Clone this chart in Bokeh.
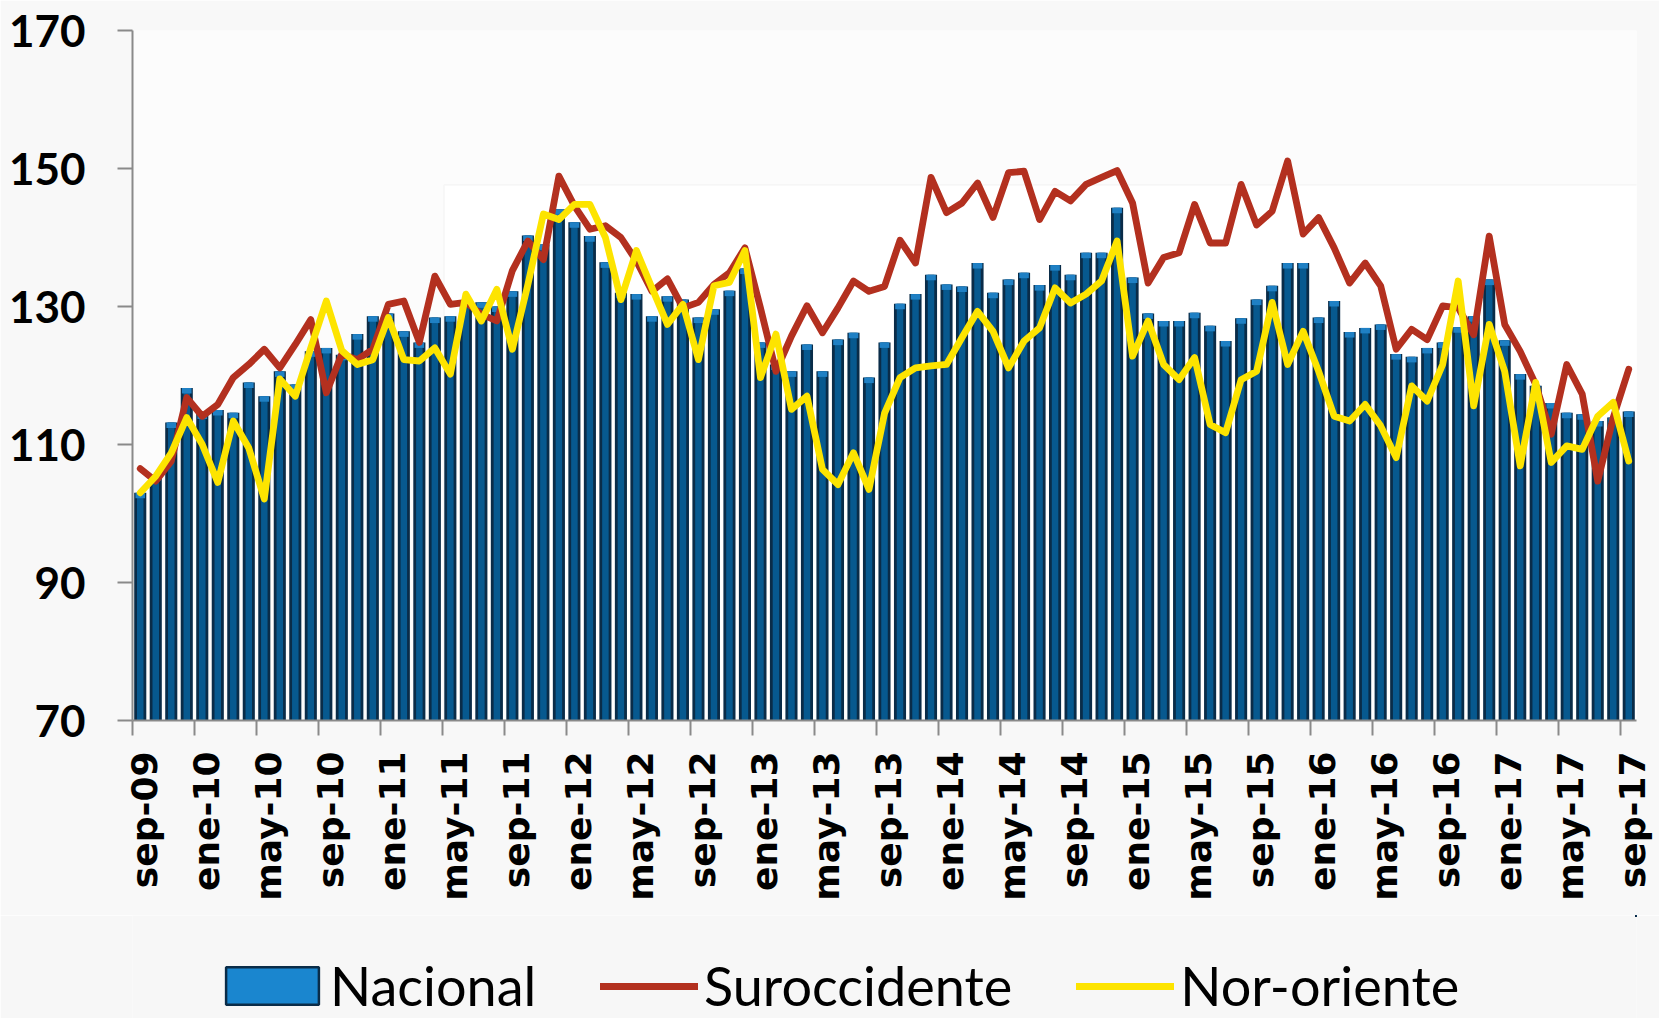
import math
from bokeh.plotting import figure
from bokeh.layouts import column
from bokeh.models import (FixedTicker, LinearAxis, Legend, LegendItem, BoxAnnotation,
                          ColumnDataSource, Range1d)
from bokeh.embed import file_html
from bokeh.resources import INLINE

tick_labels = ["sep-09", "ene-10", "may-10", "sep-10", "ene-11", "may-11", "sep-11",
               "ene-12", "may-12", "sep-12", "ene-13", "may-13", "sep-13", "ene-14",
               "may-14", "sep-14", "ene-15", "may-15", "sep-15", "ene-16", "may-16",
               "sep-16", "ene-17", "may-17", "sep-17"]
y_ticks = [70, 90, 110, 130, 150, 170]
series_names = ["Nacional", "Suroccidente", "Nor-oriente"]

nacional = [103.0, 105.5, 113.2, 118.2, 114.5, 115.0, 114.6, 119.0, 117.0, 120.6,
            118.7, 123.5, 124.0, 123.0, 126.0, 128.6, 129.0, 126.4, 124.8, 128.4,
            128.6, 130.8, 130.6, 130.0, 132.2, 140.3, 139.0, 144.1, 142.2, 140.2,
            136.4, 132.0, 131.8, 128.6, 131.5, 131.0, 128.4, 129.6, 132.3, 135.5,
            124.8, 121.6, 120.6, 124.5, 120.6, 125.2, 126.2, 119.7, 124.8, 130.4,
            131.8, 134.6, 133.2, 132.9, 136.3, 132.0, 133.9, 134.9, 133.1, 136.0,
            134.6, 137.8, 137.8, 144.3, 134.2, 129.0, 127.9, 127.9, 129.1, 127.2,
            125.0, 128.3, 131.0, 133.0, 136.3, 136.3, 128.4, 130.8, 126.3, 126.9,
            127.4, 123.1, 122.7, 124.0, 124.8, 127.0, 128.6, 133.9, 125.1, 120.2,
            118.5, 116.0, 114.6, 114.4, 113.4, 113.9, 114.8]

suroccidente = [106.5, 104.7, 107.6, 116.8, 114.1, 115.8, 119.7, 121.6, 123.8, 121.1,
                124.5, 128.1, 117.5, 123.1, 122.3, 123.8, 130.3, 130.8, 124.8, 134.4,
                130.3, 130.6, 128.9, 127.9, 135.2, 139.5, 136.8, 148.9, 144.6, 141.2,
                141.7, 140.0, 136.6, 132.2, 134.0, 129.8, 130.6, 133.2, 134.9, 138.5,
                129.8, 120.6, 125.7, 130.1, 126.2, 129.8, 133.7, 132.2, 132.9, 139.6,
                136.3, 148.7, 143.6, 145.0, 147.9, 142.9, 149.4, 149.6, 142.6, 146.7,
                145.3, 147.7, 148.7, 149.7, 145.0, 133.4, 137.1, 137.8, 144.8, 139.2,
                139.2, 147.7, 141.8, 143.8, 151.1, 140.5, 142.9, 138.5, 133.4, 136.3,
                133.0, 123.8, 126.7, 125.2, 130.1, 129.8, 125.9, 140.2, 127.4, 123.5,
                118.7, 111.5, 121.6, 117.3, 104.7, 113.9, 120.9]

nororiente = [103.0, 105.4, 108.8, 113.9, 110.0, 104.5, 113.4, 109.5, 102.1, 119.5,
              117.0, 124.0, 130.8, 123.6, 121.6, 122.3, 128.4, 122.3, 122.1, 124.0,
              120.2, 131.8, 127.9, 132.5, 123.8, 133.2, 143.4, 142.6, 144.8, 144.8,
              140.0, 131.0, 138.1, 132.7, 127.4, 130.3, 122.3, 133.0, 133.5, 138.1,
              119.7, 126.0, 115.1, 117.0, 106.4, 104.2, 108.8, 103.5, 114.5, 119.7,
              121.1, 121.4, 121.6, 125.5, 129.3, 126.4, 121.1, 125.0, 126.9, 132.7,
              130.5, 131.8, 133.7, 139.5, 122.8, 127.9, 121.6, 119.4, 122.6, 112.9,
              111.7, 119.4, 120.6, 130.6, 121.6, 126.4, 120.6, 114.1, 113.4, 115.8,
              112.7, 108.1, 118.5, 116.3, 121.6, 133.7, 115.6, 127.4, 120.6, 106.9,
              119.0, 107.4, 109.8, 109.3, 114.1, 116.1, 107.6]

BAR_DARK = "#0a2c48"
BAR_MID = "#07598f"
BAR_CAP = "#1f80c4"
LEGEND_BAR = "#1a86cf"
RED = "#b3301f"
YELLOW = "#fde400"
AXIS_GRAY = "#8a8a8a"

n = len(nacional)
xs = [i + 0.5 for i in range(n)]
cap_bottom = [v - 0.8 for v in nacional]
src = ColumnDataSource(dict(x=xs, nac=nacional, sur=suroccidente, nor=nororiente, capb=cap_bottom))

p = figure(width=1659, height=915, output_backend="svg", toolbar_location=None,
           x_range=Range1d(0, n), y_range=Range1d(70, 170),
           min_border_left=132, min_border_right=23, min_border_top=30, min_border_bottom=195)
p.background_fill_color = "#fcfcfc"
p.border_fill_color = "#f8f8f8"
p.outline_line_color = None
p.xgrid.grid_line_color = None
p.ygrid.grid_line_color = None

# faint background panel (artifact of the original sheet)
p.add_layout(BoxAnnotation(left=20.1, right=n + 0.5, top=147.6, bottom=70,
                           fill_color="#ffffff", fill_alpha=1.0,
                           line_color="#e4e4e4", line_width=1.5, level="underlay"))

# bars with a pseudo 3D look
p.vbar(x="x", top="nac", bottom=70, width=0.78, source=src,
       fill_color=BAR_DARK, line_color=None)
p.vbar(x="x", top="nac", bottom=70, width=0.42, source=src,
       fill_color=BAR_MID, line_color=None)
p.vbar(x="x", top="nac", bottom="capb", width=0.62, source=src,
       fill_color=BAR_CAP, line_color=None)

p.line(x="x", y="sur", source=src, line_color=RED, line_width=6.8,
       line_join="round", line_cap="round")
p.line(x="x", y="nor", source=src, line_color=YELLOW, line_width=6.8,
       line_join="round", line_cap="round")

# y axis
ya = p.yaxis[0]
ya.ticker = FixedTicker(ticks=y_ticks)
ya.major_label_text_font = "Lato"
ya.major_label_text_font_style = "bold"
ya.major_label_text_font_size = "44px"
ya.major_label_text_color = "#000000"
ya.major_tick_out = 15
ya.major_tick_in = 0
ya.minor_tick_out = 0
ya.minor_tick_in = 0
ya.axis_line_color = AXIS_GRAY
ya.axis_line_width = 2
ya.major_tick_line_color = AXIS_GRAY
ya.major_tick_line_width = 2
ya.major_label_standoff = 32

# x axis: tick marks at month boundaries
tick_pos = [4 * k for k in range(len(tick_labels))]
xa = p.xaxis[0]
xa.ticker = FixedTicker(ticks=tick_pos)
xa.major_label_overrides = {t: "" for t in tick_pos}
xa.major_label_text_font_size = "1px"
xa.major_label_standoff = 0
xa.major_tick_out = 15
xa.major_tick_in = 0
xa.minor_tick_out = 0
xa.minor_tick_in = 0
xa.axis_line_color = AXIS_GRAY
xa.axis_line_width = 2
xa.major_tick_line_color = AXIS_GRAY
xa.major_tick_line_width = 2

# x axis labels
label_pos = [t + 0.75 for t in tick_pos]
xl = LinearAxis(ticker=FixedTicker(ticks=label_pos),
                major_label_overrides={lp: lab for lp, lab in zip(label_pos, tick_labels)})
xl.axis_line_color = None
xl.major_tick_line_color = None
xl.major_tick_out = 0
xl.major_tick_in = 0
xl.minor_tick_out = 0
xl.minor_tick_in = 0
xl.major_label_orientation = math.pi / 2
xl.major_label_text_font = "DejaVu Sans"
xl.major_label_text_font_style = "bold"
xl.major_label_text_font_size = "36px"
xl.major_label_text_color = "#000000"
xl.major_label_standoff = 16
p.add_layout(xl, "below")

# legend strip (separate figure so the legend is not clipped); the same data,
# kept outside this strip's view range, feeds the legend glyphs
p2 = figure(width=1659, height=103, output_backend="svg", toolbar_location=None,
            x_axis_location=None, y_axis_location=None,
            min_border_left=132, min_border_right=23, min_border_top=0, min_border_bottom=0,
            x_range=Range1d(-3, -2), y_range=Range1d(0, 1))
p2.background_fill_color = "#f7f7f7"
p2.border_fill_color = "#f7f7f7"
p2.outline_line_color = None
p2.grid.grid_line_color = None
lg_bar = p2.vbar(x="x", top="nac", bottom="capb", width=0.5, source=src,
                 fill_color=LEGEND_BAR, line_color=BAR_DARK, line_width=2.5)
lg_red = p2.line(x="x", y="sur", source=src, line_color=RED, line_width=7, line_cap="round")
lg_yel = p2.line(x="x", y="nor", source=src, line_color=YELLOW, line_width=7, line_cap="round")

common = dict(orientation="horizontal", padding=0, margin=0,
              label_text_font="Lato", label_text_font_size="54px",
              label_text_color="#000000",
              border_line_alpha=0, background_fill_alpha=0)

legend_bar = Legend(items=[LegendItem(label=series_names[0], renderers=[lg_bar])],
                    location=(82, 0), glyph_width=116, glyph_height=47,
                    label_standoff=0, **common)
legend_lines = Legend(items=[LegendItem(label=series_names[1], renderers=[lg_red]),
                             LegendItem(label=series_names[2], renderers=[lg_yel])],
                      location=(468, 0), glyph_width=98, glyph_height=38,
                      label_standoff=6, spacing=64, **common)
p2.add_layout(legend_bar, "center")
p2.add_layout(legend_lines, "center")

layout = column(p, p2, spacing=0)
open("out.html", "w").write(file_html(layout, INLINE))
